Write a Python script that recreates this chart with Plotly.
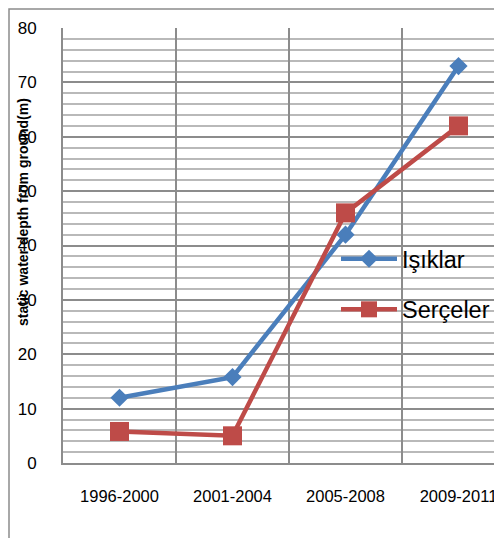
import plotly.graph_objects as go

categories = ["1996-2000", "2001-2004", "2005-2008", "2009-2011"]
isiklar = [12, 15.8, 42, 73]
sercler = [5.8, 5.0, 46, 62]
series_names = ["Işıklar", "Serçeler"]
y_title = "static water depth from ground(m)"

# window coordinates (page has an 8px body margin)
OFF = 8
WW = 502
FIG_W, FIG_H = WW - OFF, 530
L, R, T, B = 63, 502, 28, 463
pw, ph = R - L, B - T

def px(x):
    return (x - L) / pw

def py(y):
    return (B - y) / ph

FONT = "Liberation Sans"

fig = go.Figure()
fig.add_trace(go.Scatter(
    x=categories, y=isiklar, name=series_names[0], mode="lines+markers",
    line=dict(color="#4A7EBB", width=4.5),
    marker=dict(symbol="diamond", size=14, color="#4A7EBB"),
    legendgroup="a", cliponaxis=False,
))
fig.add_trace(go.Scatter(
    x=categories, y=sercler, name=series_names[1], mode="lines+markers",
    line=dict(color="#BE4B48", width=4.5),
    marker=dict(symbol="square", size=19, color="#BE4B48"),
    legendgroup="b", cliponaxis=False,
))

cat_w = 113
fig.update_layout(
    width=FIG_W, height=FIG_H,
    margin=dict(l=L - OFF, r=WW - R, t=T - OFF, b=(FIG_H + OFF) - B, pad=0),
    paper_bgcolor="white", plot_bgcolor="white",
    font=dict(family=FONT, size=17, color="#000000"),
    showlegend=True,
    legend=dict(
        x=px(336), y=py(237), xanchor="left", yanchor="top",
        bgcolor="rgba(0,0,0,0)", font=dict(family=FONT, size=23.5, color="#000"),
        itemwidth=56, tracegroupgap=17,
    ),
    xaxis=dict(
        type="category", range=[-0.5, -0.5 + pw / cat_w],
        tickson="boundaries", showgrid=True, gridcolor="#8c8c8c", gridwidth=1.5,
        showline=True, linecolor="#8c8c8c", linewidth=2,
        ticks="", ticklabelstandoff=17,
        tickfont=dict(family=FONT, size=16.5, color="#000"),
        zeroline=False,
    ),
    yaxis=dict(
        range=[0, 80], dtick=10, tick0=0,
        showgrid=True, gridcolor="#8c8c8c", gridwidth=2,
        minor=dict(dtick=2, showgrid=True, gridcolor="#b9b9b9", gridwidth=1.5),
        showline=True, linecolor="#8c8c8c", linewidth=2,
        ticks="", ticklabelstandoff=21,
        tickfont=dict(family=FONT, size=17, color="#000"),
        zeroline=False,
    ),
    annotations=[dict(
        text="<b>" + y_title + "</b>", textangle=-90,
        x=px(23), y=py(212), xref="paper", yref="paper",
        xanchor="center", yanchor="middle", showarrow=False,
        font=dict(family=FONT, size=14, color="#000"),
    )],
    shapes=[
        dict(type="rect", xref="paper", yref="paper",
             x0=px(9), x1=px(530), y0=py(580), y1=py(9),
             line=dict(color="#8c8c8c", width=1.5), layer="below"),
    ],
)

fig.write_html("out.html")
